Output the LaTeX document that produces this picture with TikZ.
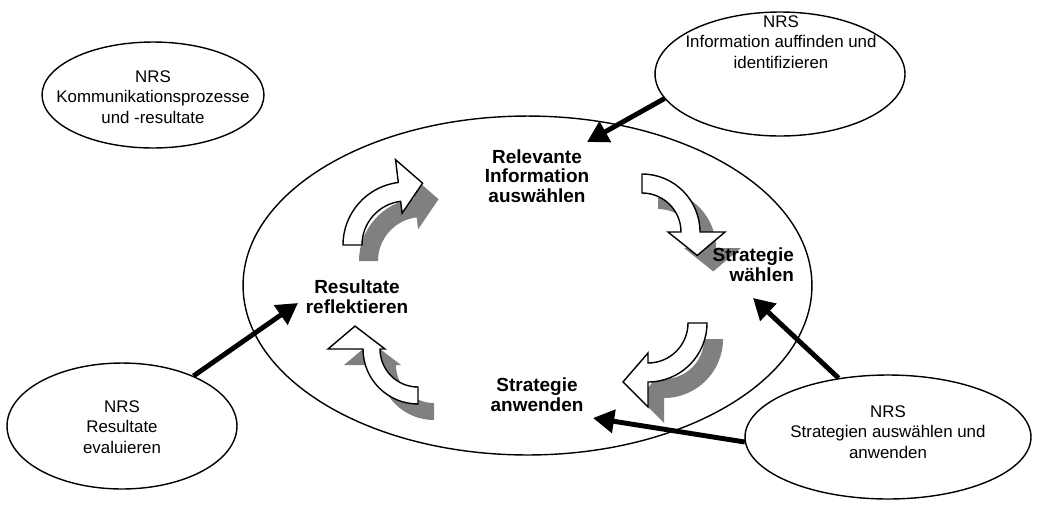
\documentclass[tikz,border=0pt]{standalone}
\usepackage{fontspec}
\setmainfont{Liberation Sans}
\usetikzlibrary{arrows.meta,shapes.geometric}
\tikzset{
  oval/.style={ellipse,draw,line width=0.8pt,inner sep=0pt},
  nrs/.style={align=center,font=\fontsize{9.6}{11.6}\selectfont},
  stage/.style={align=center,font=\fontsize{10.8}{11.2}\selectfont\bfseries},
  arrow/.style={-{Triangle[length=12pt,width=13pt]},line width=2.8pt},
  bentshadow/.style={fill=gray,draw=none},
  bentwhite/.style={fill=white,draw,line width=0.8pt,line join=miter}
}
% band from angle #1 to #2, tip at angle #3; radii: band #4/#5, head #6/#7, tip #8
\newcommand{\bentpath}[8]{(#1:#5) arc[start angle=#1,end angle=#2,radius=#5] -- (#2:#7) -- (#3:#8) -- (#2:#6) -- (#2:#4) arc[start angle=#2,end angle=#1,radius=#4] -- cycle}
\newcommand{\bentarrow}[9]{%
  \begin{scope}[shift={#1}]
    \fill[bentshadow,shift={(16,16)}] \bentpath{#2}{#3}{#4}{#5}{#6}{#7}{#8}{#9};
    \filldraw[bentwhite] \bentpath{#2}{#3}{#4}{#5}{#6}{#7}{#8}{#9};
  \end{scope}}

\begin{document}
\begin{tikzpicture}[x=0.02cm,y=0.02cm,yscale=-1]
  \useasboundingbox (0,0) rectangle (1050,508);
  % ellipses
  \node[oval,minimum width=4.44cm,minimum height=2.12cm] (kom) at (153,95) {};
  \node[oval,minimum width=5cm,minimum height=2.48cm] (info) at (780,74) {};
  \node[oval,minimum width=4.6cm,minimum height=2.52cm] (eval) at (122,426) {};
  \node[oval,minimum width=5.72cm,minimum height=2.48cm] (strat) at (888,437) {};
  \node[oval,minimum width=11.38cm,minimum height=6.78cm] (core) at (527.5,285.5) {};
  % bent arrows of the cycle
  \bentarrow{(406,245)}{180}{263}{285}{44}{63}{32}{86}{64}
  \bentarrow{(642,232)}{270}{360}{383}{39}{58}{26}{83}{60}
  \bentarrow{(648,323)}{0}{90}{113}{40}{59}{30}{84}{64}
  \bentarrow{(418,349)}{90}{180}{200}{38}{55}{33}{90}{67}
  % texts
  \node[stage] (rel) at (537,176) {Relevante\\Information\\auswählen};
  \node[stage,anchor=east,align=right,inner sep=1pt] (strw) at (796,265) {Strategie\\wählen};
  \node[stage] (stra) at (537,395) {Strategie\\anwenden};
  \node[stage] (res) at (357,297) {Resultate\\reflektieren};
  \node[nrs] (komtext) at (153,97) {NRS\\Kommunikationsprozesse\\und -resultate};
  \node[nrs] (infotext) at (781,42) {NRS\\Information auffinden und\\identifizieren};
  \node[nrs] (evaltext) at (122,427) {NRS\\Resultate\\evaluieren};
  \node[nrs] (strattext) at (888,432) {NRS\\Strategien auswählen und\\anwenden};
  % black arrows
  \coordinate (relin) at (587,142);
  \coordinate (resin) at (298,303);
  \coordinate (strwin) at (753,298);
  \coordinate (strain) at (593,418);
  \draw[arrow] (info.192) -- (relin);
  \draw[arrow] (eval.35) -- (resin);
  \draw[arrow] (strat.130) -- (strwin);
  \draw[arrow] (strat.182) -- (strain);
\end{tikzpicture}
\end{document}
